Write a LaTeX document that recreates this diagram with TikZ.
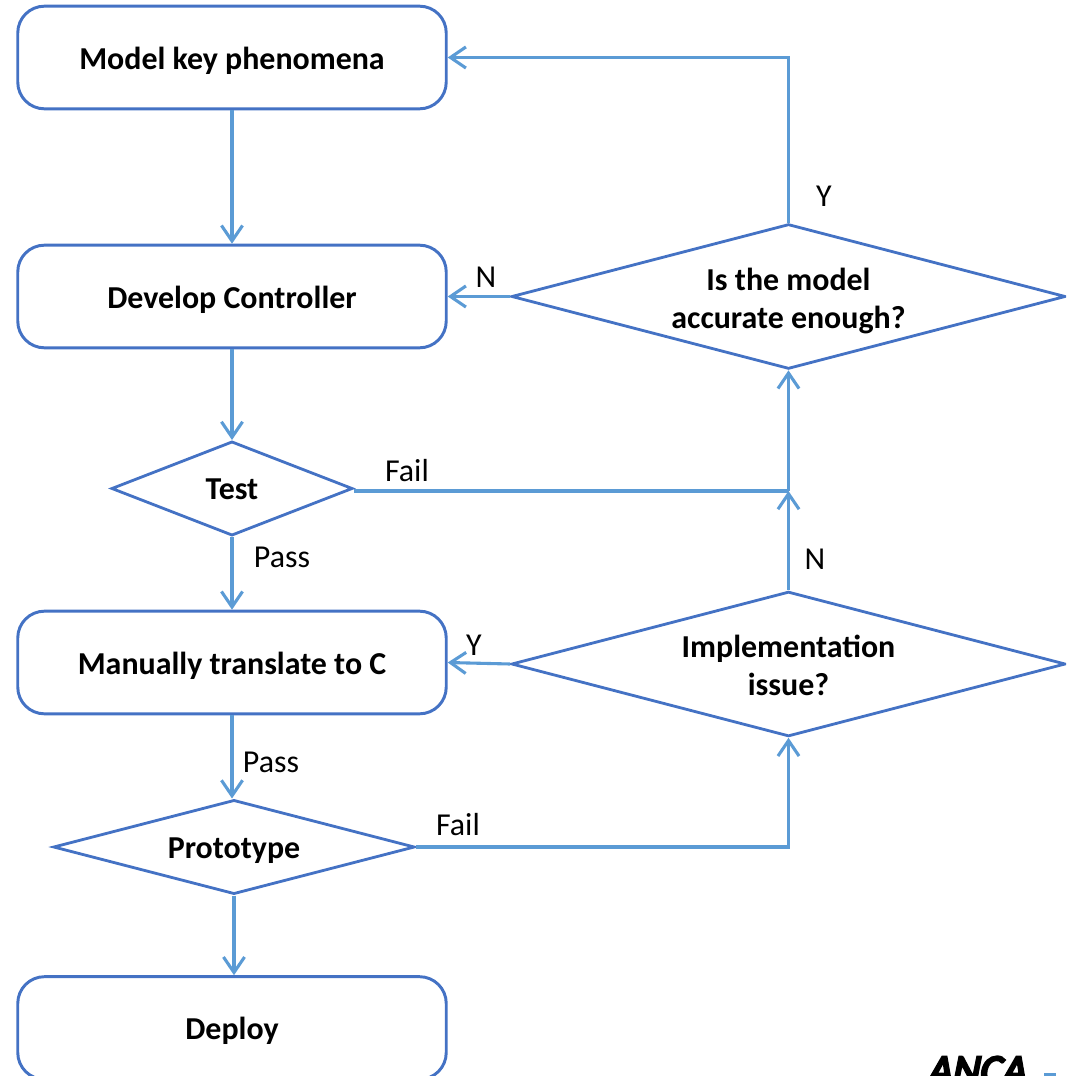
\documentclass[tikz,border=0pt]{standalone}
\usepackage{fontspec}
\setmainfont{Carlito}
\newfontfamily\logofont[FakeBold=6,FakeSlant=0.2]{Carlito}
\usetikzlibrary{arrows.meta,shapes.geometric}
\definecolor{boxblue}{HTML}{4472C4}
\definecolor{arrowblue}{HTML}{5B9BD5}
\tikzset{
	flowbox/.style={draw=boxblue, line width=2.1pt, rounded corners=19pt, minimum width=304.7pt, minimum height=73pt, inner sep=0pt, text height=21.5pt, text depth=5pt, font=\fontsize{22.7}{25}\selectfont\bfseries},
	flowdiamond/.style={diamond, draw=boxblue, line width=2pt, inner sep=0pt, align=center, font=\fontsize{22.7}{27}\selectfont\bfseries},
	flowarrow/.style={draw=arrowblue, line width=2.2pt, -{Straight Barb[length=11pt,width=15pt]}},
	flowlabel/.style={font=\fontsize{22.7}{25}\selectfont, inner sep=0pt}
}
\begin{document}
\begin{tikzpicture}[x=0.025cm, y=-0.025cm]
	\useasboundingbox (0,0) rectangle (1066,1076);
	\begin{scope}
	\clip (0,0) rectangle (1066,1076);
	\node[flowbox] (model) at (232,57.5) {Model key phenomena};
	\node[flowbox] (develop) at (232,296.5) {Develop Controller};
	\node[flowbox] (translate) at (232,662.5) {Manually translate to C};
	\node[flowbox] (deploy) at (232,1028) {Deploy};
	\node[flowdiamond, aspect=3.82, minimum width=394pt, minimum height=103pt] (accurate) at (788.5,296.5) {\rule{0pt}{23pt}Is the model\\accurate enough?};
	\node[flowdiamond, aspect=3.82, minimum width=394pt, minimum height=103pt] (issue) at (788.5,664) {\rule{0pt}{17.5pt}Implementation\\issue?};
	\node[flowdiamond, aspect=2.55, minimum width=171.5pt, minimum height=67pt, text height=16pt] (test) at (232,488.5) {Test};
	\node[flowdiamond, aspect=3.8, minimum width=257pt, minimum height=67pt, text height=21.5pt, text depth=5pt] (proto) at (234,847) {Prototype};
	\node[font=\fontsize{30}{30}\selectfont\logofont, inner sep=0pt, anchor=base] (logo) at (976,1084) {ANCA};
	\fill[arrowblue] (1044,1073) rectangle (1056,1076);
	\end{scope}
	\coordinate (join) at (788.5,491);
	\draw[flowarrow] (model) -- (develop);
	\draw[flowarrow] (develop) -- (test);
	\draw[flowarrow] (test) -- (translate);
	\draw[flowarrow] (translate) -- (translate |- proto.north);
	\draw[flowarrow] (proto) -- (proto |- deploy.north);
	\draw[flowarrow] (accurate.north) |- (model.east);
	\draw[flowarrow] (accurate.west) -- (develop.east);
	\draw[flowarrow] (issue.west) -- (translate.east);
	\draw[flowarrow] (issue.north) -- (join);
	\draw[flowarrow] (join) -- (accurate.south);
	\draw[draw=arrowblue, line width=2.2pt] (test.east |- join) -- (join);
	\draw[flowarrow] (proto.east) -| (issue.south);
	\node[flowlabel] (ylabel) at (824,196) {Y};
	\node[flowlabel] (nlabel) at (486,277) {N};
	\node[flowlabel] (faila) at (407,471) {Fail};
	\node[flowlabel] (passa) at (282,557) {Pass};
	\node[flowlabel] (nlabelb) at (815,559) {N};
	\node[flowlabel] (ylabelb) at (474,645) {Y};
	\node[flowlabel] (passb) at (271,762) {Pass};
	\node[flowlabel] (failb) at (458,825) {Fail};
\end{tikzpicture}
\end{document}
